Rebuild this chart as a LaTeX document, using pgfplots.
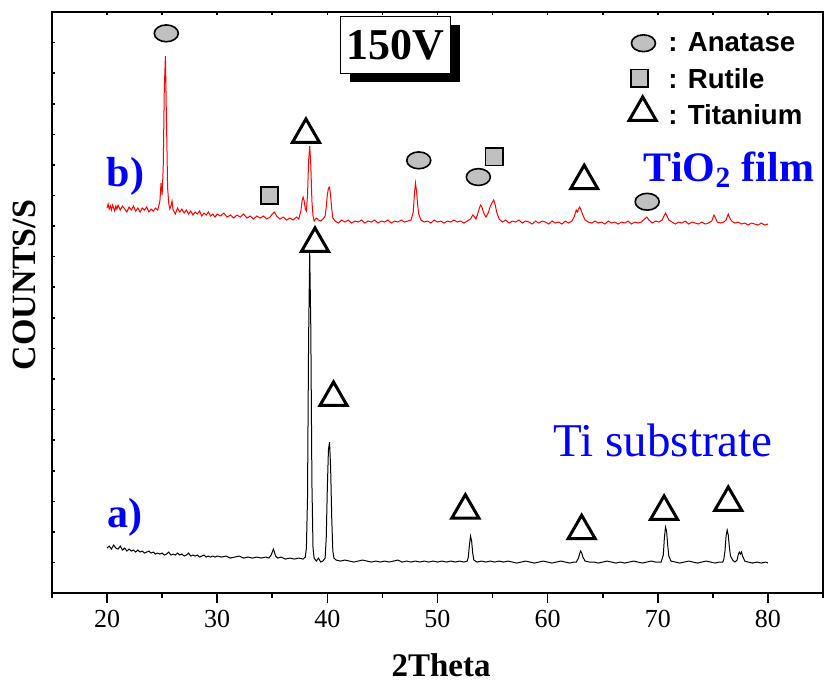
\documentclass[border=0pt]{standalone}
\usepackage{pgfplots}
\pgfplotsset{compat=1.18}
\usepackage{fontspec}
\setmainfont{Liberation Serif}
\newfontfamily\arialfont{Liberation Sans}
\definecolor{phase}{RGB}{192,192,192}
\definecolor{lblblue}{RGB}{0,0,255}
\newcommand{\fs}[1]{\fontsize{#1}{#1}\selectfont}

% 1 px of the reference = 0.5pt; y values are heights in px above the x axis
\pgfplotsset{xrdframe/.style={width=385.5pt,height=290.5pt,scale only axis,
  xmin=15,xmax=85,ymin=0,ymax=581,axis line style={line width=1pt},
  every tick/.style={black,line width=0.8pt}}}

\begin{document}
\begin{tikzpicture}
% inner ticks on top and left
\begin{axis}[xrdframe,tick align=inside,xtick pos=top,ytick pos=left,
  xtick={15,20,...,85},
  ytick={0,30.58,61.16,91.74,122.32,152.9,183.48,214.06,244.64,275.22,305.8,336.38,366.96,397.54,428.12,458.7,489.28,519.86,550.44,581},
  xticklabels={},yticklabels={},major tick length=1.5pt]
\end{axis}
\begin{axis}[xrdframe,clip=false,tick align=outside,xtick pos=bottom,ytick=\empty,
  xtick={20,30,...,80},minor xtick={15,25,...,85},
  major tick length=5pt,minor tick length=2.5pt,
  ticklabel style={font=\fs{13}},/pgf/number format/assume math mode=true]

% a) Ti substrate
\addplot[black,line width=0.5pt] coordinates {
(20.0,45) (20.2,47) (20.4,44) (20.6,48) (20.8,45) (21.0,44) (21.2,47) (21.4,43) (21.6,45) (21.8,42)
(22.0,44) (22.2,42) (22.4,43) (22.6,41) (22.8,43) (23.0,41) (23.2,42) (23.4,40) (23.6,41) (23.8,42)
(24.0,40) (24.2,41) (24.4,39) (24.6,40) (24.8,39) (25.0,40) (25.2,38) (25.4,39) (25.6,41) (25.8,38)
(26.0,39) (26.2,38) (26.4,40) (26.6,38) (26.8,39) (27.0,37) (27.2,38) (27.4,40) (27.6,37) (27.8,38)
(28.0,37) (28.2,38) (28.4,36) (28.6,37) (28.8,38) (29.0,36) (29.2,37) (29.4,36) (29.6,37) (29.8,36)
(30.0,37) (30.4,36) (30.8,37) (31.2,35) (31.6,36) (32.0,37) (32.4,35) (32.8,36) (33.2,35) (33.6,36)
(34.0,35) (34.4,36) (34.7,35) (34.9,38) (35.0,41) (35.1,44) (35.2,41) (35.3,37) (35.5,35) (35.8,36)
(36.2,34) (36.6,35) (37.0,34) (37.4,35) (37.8,34) (38.0,36) (38.1,45) (38.2,95) (38.3,255) (38.4,340)
(38.5,265) (38.6,110) (38.7,45) (38.8,35) (39.0,32) (39.2,35) (39.4,31) (39.6,32) (39.8,35) (39.9,55)
(40.0,105) (40.1,143) (40.2,151) (40.3,125) (40.4,75) (40.5,42) (40.6,35) (40.8,33) (41.2,32) (41.6,33)
(42.0,32) (42.4,31) (42.8,32) (43.2,33) (43.6,32) (44.0,31) (44.4,32) (44.8,31) (45.2,32) (45.6,31)
(46.0,32) (46.4,33) (46.8,31) (47.2,32) (47.6,31) (48.0,32) (48.4,31) (48.8,32) (49.2,31) (49.6,32)
(50.0,31) (50.4,32) (50.8,31) (51.2,32) (51.6,31) (52.0,32) (52.4,31) (52.7,32) (52.8,36) (52.9,48)
(53.0,57) (53.1,52) (53.2,40) (53.3,33) (53.6,31) (54.0,32) (54.4,31) (54.8,32) (55.2,31) (55.6,32)
(56.0,31) (56.4,32) (56.8,31) (57.2,30) (57.6,31) (58.0,32) (58.4,31) (58.8,30) (59.2,31) (59.6,32)
(60.0,31) (60.4,30) (60.8,31) (61.2,32) (61.6,31) (62.0,30) (62.4,31) (62.6,31) (62.8,35) (62.9,39)
(63.0,42) (63.1,40) (63.2,36) (63.4,32) (63.8,31) (64.2,31) (64.6,30) (65.0,31) (65.4,32) (65.8,31)
(66.2,30) (66.6,31) (67.0,30) (67.4,31) (67.8,32) (68.2,31) (68.6,30) (69.0,31) (69.4,32) (69.8,31)
(70.3,31) (70.5,38) (70.6,55) (70.7,66) (70.8,62) (70.9,48) (71.0,37) (71.2,32) (71.6,31) (72.0,30)
(72.4,31) (72.8,32) (73.2,31) (73.6,30) (74.0,31) (74.4,32) (74.8,31) (75.2,30) (75.6,31) (75.9,31)
(76.0,34) (76.1,42) (76.2,57) (76.3,63) (76.4,58) (76.5,46) (76.6,37) (76.8,33) (77.0,31) (77.2,33)
(77.3,38) (77.4,41) (77.5,39) (77.6,41) (77.7,37) (77.9,32) (78.2,31) (78.6,30) (79.0,31) (79.4,30)
(79.8,31) (80.0,30)};

% b) TiO2 film
\addplot[red,line width=0.5pt] coordinates {
(20.0,385) (20.1,389) (20.2,384) (20.3,387) (20.4,383) (20.5,388) (20.6,385) (20.7,382) (20.8,387) (20.9,384)
(21.0,388) (21.2,383) (21.4,387) (21.6,384) (21.8,381) (22.0,386) (22.2,383) (22.4,387) (22.6,382) (22.8,385)
(23.0,381) (23.2,385) (23.4,383) (23.6,386) (23.8,381) (24.0,384) (24.2,382) (24.4,385) (24.6,383) (24.8,392)
(24.9,410) (25.0,398) (25.1,425) (25.2,505) (25.3,537) (25.4,470) (25.5,405) (25.6,390) (25.7,384) (25.8,387)
(25.9,392) (26.0,383) (26.2,379) (26.4,385) (26.6,381) (26.8,384) (27.0,380) (27.2,383) (27.4,379) (27.6,382)
(27.8,378) (28.0,381) (28.2,379) (28.4,382) (28.6,377) (28.8,380) (29.0,378) (29.2,381) (29.4,377) (29.6,379)
(29.8,376) (30.0,379) (30.3,377) (30.6,380) (30.9,376) (31.2,378) (31.5,375) (31.8,378) (32.1,376) (32.4,379)
(32.7,375) (33.0,377) (33.3,374) (33.6,377) (33.9,375) (34.2,377) (34.5,374) (34.8,376) (35.0,379) (35.2,381)
(35.4,377) (35.7,374) (36.0,376) (36.3,373) (36.6,375) (36.9,373) (37.2,376) (37.4,374) (37.6,382) (37.7,392)
(37.8,396) (37.9,392) (38.0,384) (38.1,382) (38.2,398) (38.3,432) (38.4,447) (38.5,428) (38.6,392) (38.7,377)
(38.8,372) (39.0,375) (39.2,373) (39.4,372) (39.6,374) (39.8,377) (39.9,386) (40.0,398) (40.1,405) (40.2,406)
(40.3,397) (40.4,384) (40.5,375) (40.7,372) (41.0,370) (41.3,373) (41.6,371) (41.9,373) (42.2,370) (42.5,372)
(42.8,371) (43.1,373) (43.4,370) (43.7,372) (44.0,371) (44.3,373) (44.6,370) (44.9,372) (45.2,371) (45.5,373)
(45.8,370) (46.1,372) (46.4,371) (46.7,373) (47.0,371) (47.3,372) (47.6,373) (47.8,381) (47.9,398) (48.0,410)
(48.1,402) (48.2,388) (48.3,379) (48.5,373) (48.8,371) (49.1,372) (49.4,370) (49.7,373) (50.0,371) (50.3,372)
(50.6,370) (50.9,372) (51.2,371) (51.5,373) (51.8,371) (52.1,372) (52.4,370) (52.7,372) (53.0,374) (53.2,378)
(53.3,377) (53.5,374) (53.7,381) (53.9,388) (54.0,387) (54.2,380) (54.4,376) (54.6,380) (54.8,387) (55.0,391)
(55.1,393) (55.2,390) (55.4,380) (55.6,374) (55.9,371) (56.2,373) (56.5,370) (56.8,372) (57.1,371) (57.4,373)
(57.7,370) (58.0,372) (58.3,371) (58.6,369) (58.9,372) (59.2,370) (59.5,372) (59.8,371) (60.1,369) (60.4,372)
(60.7,370) (61.0,371) (61.3,369) (61.6,372) (61.9,370) (62.2,372) (62.4,376) (62.6,383) (62.7,381) (62.8,384)
(62.9,386) (63.0,384) (63.2,378) (63.4,373) (63.7,371) (64.0,370) (64.3,372) (64.6,370) (64.9,371) (65.2,369)
(65.5,372) (65.8,370) (66.1,371) (66.4,369) (66.7,371) (67.0,370) (67.3,372) (67.6,369) (67.9,371) (68.2,370)
(68.5,371) (68.8,374) (69.0,376) (69.2,373) (69.5,370) (69.8,372) (70.1,371) (70.4,373) (70.6,378) (70.7,380)
(70.8,378) (71.0,373) (71.3,371) (71.6,369) (71.9,371) (72.2,370) (72.5,372) (72.8,369) (73.1,371) (73.4,370)
(73.7,369) (74.0,371) (74.3,369) (74.6,370) (74.9,372) (75.1,378) (75.2,376) (75.4,371) (75.7,370) (76.0,371)
(76.2,373) (76.4,379) (76.5,376) (76.7,372) (77.0,370) (77.3,371) (77.6,369) (77.9,370) (78.2,368) (78.5,370)
(78.8,369) (79.1,368) (79.4,370) (79.7,368) (80.0,369)};

% phase markers (last point of each = key)
\addplot[only marks,mark=*,mark size=4.2pt,
  mark options={xscale=1.43,fill=phase,draw=black,line width=0.8pt}]
  coordinates {(25.38,559.7) (48.30,432.7) (53.71,416) (69.04,391.3) (68.70,549.8)};
\addplot[only marks,mark=square*,mark size=4.3pt,
  mark options={fill=phase,draw=black,line width=0.8pt}]
  coordinates {(34.76,397.7) (55.15,436.3) (68.34,514.8)};
\addplot[only marks,mark=triangle,mark size=7.8pt,
  mark options={draw=black,line width=1.5pt}]
  coordinates {(38.06,458.5) (38.88,349.5) (40.56,195.5) (52.53,82.8) (63.09,62.2)
               (70.57,81.5) (76.40,90.5) (63.32,412.2) (68.63,480.5)};

% key text
\tikzset{keytext/.style={anchor=base west,inner sep=0pt,font=\arialfont\bfseries\fs{13.8}}}
\node[keytext] at (axis cs:70.93,541.3) {: Anatase};
\node[keytext] at (axis cs:70.93,504.7) {: Rutile};
\node[keytext] at (axis cs:70.93,469) {: Titanium};

% 150V box with shadow
\node[fill=black,minimum width=55pt,minimum height=28.3pt,inner sep=0pt,xshift=4.5pt,yshift=-4.3pt] at (axis cs:46.2,548) {};
\node[draw=black,fill=white,line width=0.6pt,minimum width=55pt,minimum height=28.3pt,inner sep=0pt,
  font=\bfseries\fs{22}] at (axis cs:46.2,548) {150V};

% labels
\node[text=lblblue,font=\bfseries\fs{21}] at (axis cs:21.67,417) {b)};
\node[text=lblblue,font=\bfseries\fs{21}] at (axis cs:21.6,75.5) {a)};
\node[anchor=base,text=lblblue,font=\bfseries\fs{21}] at (axis cs:76.47,411.3) {TiO\textsubscript{2} film};
\node[anchor=base,text=lblblue,font=\fs{23.5}] at (axis cs:70.48,136.3) {Ti substrate};

\node[anchor=base,font=\bfseries\fs{16.5}] at (axis cs:50.32,-83) {2Theta};
\node[rotate=90,font=\bfseries\fs{17}] at (axis cs:12.46,308) {COUNTS/S};

\coordinate (bbll) at (rel axis cs:-0.0674,-0.155);
\coordinate (bbur) at (rel axis cs:1.0013,1.0207);
\end{axis}
\pgfresetboundingbox
\path (bbll) rectangle (bbur);
\end{tikzpicture}
\end{document}
